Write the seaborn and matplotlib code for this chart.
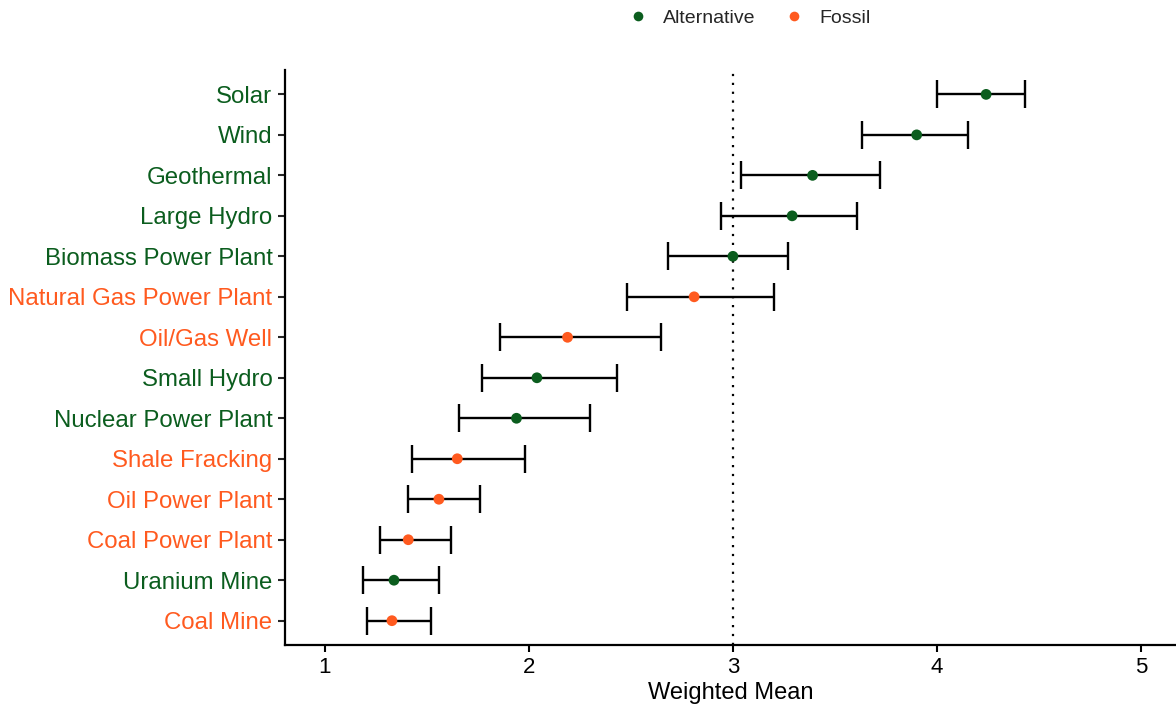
import numpy as np
import pandas as pd
import matplotlib
matplotlib.use("Agg")
import matplotlib.pyplot as plt
import seaborn as sns

# data, top to bottom
sources = ["Solar", "Wind", "Geothermal", "Large Hydro", "Biomass Power Plant",
           "Natural Gas Power Plant", "Oil/Gas Well", "Small Hydro",
           "Nuclear Power Plant", "Shale Fracking", "Oil Power Plant",
           "Coal Power Plant", "Uranium Mine", "Coal Mine"]
kind = ["Alternative", "Alternative", "Alternative", "Alternative", "Alternative",
        "Fossil", "Fossil", "Alternative", "Alternative", "Fossil", "Fossil",
        "Fossil", "Alternative", "Fossil"]
mean = [4.24, 3.90, 3.39, 3.29, 3.00, 2.81, 2.19, 2.04, 1.94, 1.65, 1.56, 1.41, 1.34, 1.33]
lower = [4.00, 3.63, 3.04, 2.94, 2.68, 2.48, 1.86, 1.77, 1.66, 1.43, 1.41, 1.27, 1.19, 1.21]
upper = [4.43, 4.15, 3.72, 3.61, 3.27, 3.20, 2.65, 2.43, 2.30, 1.98, 1.76, 1.62, 1.56, 1.52]

green = "#0b5d1e"
orange = "#ff5a1f"
palette = {"Alternative": green, "Fossil": orange}

df = pd.DataFrame({"source": sources, "kind": kind, "mean": mean,
                   "lower": lower, "upper": upper})
df["pos"] = np.arange(len(df))[::-1]

sns.set_theme(style="ticks")
plt.rcParams['font.family'] = ['Liberation Sans', 'DejaVu Sans']

fig = plt.figure(figsize=(11.76, 7.08), dpi=100)
ax = fig.add_axes([0.2423, 0.089, 0.7577, 0.812])

ax.axvline(3, color="black", linestyle=(0, (1, 3)), lw=1.6, zorder=1)
ax.errorbar(df["mean"], df["pos"],
            xerr=[df["mean"] - df["lower"], df["upper"] - df["mean"]],
            fmt="none", ecolor="black", elinewidth=1.7, capsize=10, capthick=1.7, zorder=2)
sns.scatterplot(data=df, x="mean", y="pos", hue="kind", palette=palette,
                s=60, edgecolor="none", zorder=3, ax=ax, legend=True)

ax.set_yticks(df["pos"])
ax.set_yticklabels(df["source"], fontsize=17.3)
for lab, k in zip(ax.get_yticklabels(), df["kind"]):
    lab.set_color(palette[k])
ax.set_xticks([1, 2, 3, 4, 5])
ax.tick_params(axis="x", labelsize=16, length=5, width=1.5, colors="black")
ax.tick_params(axis="y", length=5, width=1.5, pad=4)
ax.set_xlim(0.806, 5.17)
ax.set_ylim(-0.6, len(df) - 0.4)
ax.set_xlabel("Weighted Mean", fontsize=17, color="black", labelpad=3)
ax.set_ylabel("")
for s in ["left", "bottom"]:
    ax.spines[s].set_linewidth(1.6)
    ax.spines[s].set_color("black")
sns.despine(ax=ax)

handles, labels = ax.get_legend_handles_labels()
ax.legend_.remove()
fig.legend(handles, labels, loc="upper center", bbox_to_anchor=(0.633, 1.012),
           ncol=2, frameon=False, fontsize=14, handletextpad=0.3,
           columnspacing=1.0, markerscale=0.9)

fig.savefig("out.png", dpi=100)
